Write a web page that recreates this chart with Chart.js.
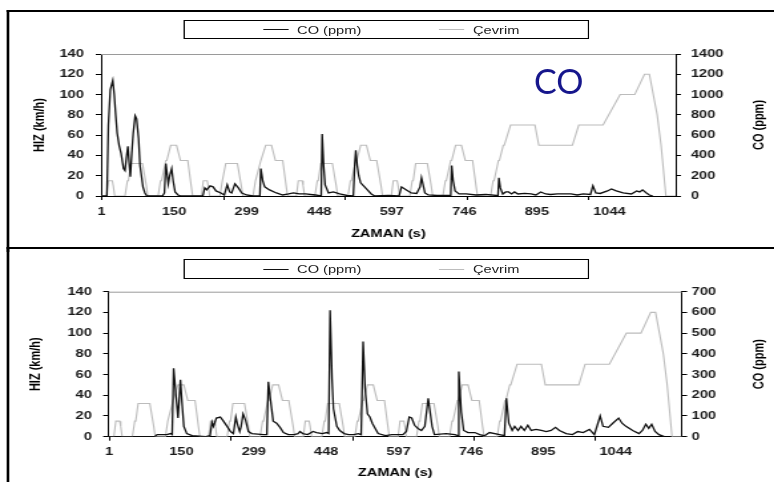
<!DOCTYPE html>
<html>
<head>
<meta charset="utf-8">
<script src="https://cdn.jsdelivr.net/npm/chart.js@4.4.1/dist/chart.umd.min.js"></script>
<style>
body { margin: 0; background: #fff; width: 774px; height: 482px; overflow: hidden; position: relative; font-family: "Liberation Sans", Arial, sans-serif; }
/* the source picture is a horizontally stretched chart, so draw narrow and stretch */
#stretch { position: absolute; left: 0; top: 0; width: 582px; height: 482px; transform: scaleX(1.33); transform-origin: 0 0; }
.frame { position: absolute; left: 5.3px; width: 590px; border-top: 2px solid #000; border-left: 2px solid #000; }
canvas { position: absolute; left: 0; }
.legend { position: absolute; left: 137.6px; width: 305px; border: 1px solid #000; box-sizing: border-box; font-size: 11px; color: #222; }
.item { position: absolute; top: 0; height: 100%; display: flex; align-items: center; white-space: nowrap; }
.swatch { display: inline-block; width: 19px; height: 0; margin-right: 6.4px; }
#co-note { position: absolute; left: 534px; top: 64px; font: 34px Lato, sans-serif; line-height: 34px; color: #16168c; }
</style>
</head>
<body>
<div id="stretch">
    <div class="frame" style="top:10px;height:240px;"></div>
    <div class="frame" style="top:247px;height:240px;"></div>
    <canvas id="chartTop" width="582" height="235" style="top:12px;width:582px;height:235px;"></canvas>
    <canvas id="chartBottom" width="582" height="232" style="top:250px;width:582px;height:232px;"></canvas>
    <div class="legend" style="top:20px;height:19px;">
        <div class="item" style="left:59.4px;"><span class="swatch" style="border-top:1.4px solid #111;"></span>CO (ppm)</div>
        <div class="item" style="left:191.7px;"><span class="swatch" style="border-top:1.2px solid #bcbcbc;"></span>Çevrim</div>
    </div>
    <div class="legend" style="top:259px;height:20px;">
        <div class="item" style="left:59.4px;"><span class="swatch" style="border-top:1.4px solid #111;"></span>CO (ppm)</div>
        <div class="item" style="left:191.7px;"><span class="swatch" style="border-top:1.2px solid #bcbcbc;"></span>Çevrim</div>
    </div>
</div>
<div id="co-note">CO</div>

<script>
// x axis labels and the small tick marks on the time axis
const xTickLabels = [1, 150, 299, 448, 597, 746, 895, 1044];
const xMarkTicks = [1, 251, 501, 751, 1001];

// Çevrim (speed, km/h) : [time s, speed]
const cycle = [
    [0, 0], [11, 0], [15, 15], [23, 15], [25, 10], [28, 0], [49, 0], [54, 15], [56, 15], [61, 32], [85, 32], [93, 10], [96, 0],
    [117, 0], [122, 15], [124, 15], [133, 35], [135, 35], [143, 50], [155, 50], [163, 35], [176, 35], [178, 35], [185, 10], [188, 0],
    [195, 0], [206, 0], [210, 15], [218, 15], [220, 10], [223, 0], [244, 0], [249, 15], [251, 15], [256, 32], [280, 32], [288, 10], [291, 0],
    [312, 0], [317, 15], [319, 15], [328, 35], [330, 35], [338, 50], [350, 50], [358, 35], [371, 35], [373, 35], [380, 10], [383, 0],
    [390, 0], [401, 0], [405, 15], [413, 15], [415, 10], [418, 0], [439, 0], [444, 15], [446, 15], [451, 32], [475, 32], [483, 10], [486, 0],
    [507, 0], [512, 15], [514, 15], [523, 35], [525, 35], [533, 50], [545, 50], [553, 35], [566, 35], [568, 35], [575, 10], [578, 0],
    [585, 0], [596, 0], [600, 15], [608, 15], [610, 10], [613, 0], [634, 0], [639, 15], [641, 15], [646, 32], [670, 32], [678, 10], [681, 0],
    [702, 0], [707, 15], [709, 15], [718, 35], [720, 35], [728, 50], [740, 50], [748, 35], [761, 35], [763, 35], [770, 10], [773, 0],
    [780, 0], [800, 0], [805, 15], [807, 15], [816, 35], [818, 35], [826, 50], [828, 50], [841, 70], [891, 70], [899, 50], [968, 50],
    [981, 70], [1031, 70], [1066, 100], [1096, 100], [1116, 120], [1126, 120], [1142, 80], [1150, 50], [1160, 0], [1180, 0]
];

// CO (ppm), upper chart : [time s, ppm]
const coTop = [
    [0, 0], [12, 0], [15, 700], [19, 1050], [24, 1140], [27, 1000], [30, 800], [33, 620], [37, 500], [41, 420], [46, 270], [49, 250],
    [52, 380], [55, 490], [58, 300], [60, 190], [63, 420], [66, 620], [70, 790], [73, 760], [77, 570], [80, 300], [86, 90], [90, 30],
    [94, 0], [126, 0], [130, 30], [133, 320], [136, 200], [138, 120], [141, 200], [145, 270], [148, 150], [152, 40], [158, 10], [164, 0],
    [209, 0], [213, 80], [217, 60], [224, 100], [230, 90], [236, 50], [246, 30], [253, 10], [259, 110], [264, 40], [268, 30], [275, 120],
    [282, 80], [289, 30], [299, 10], [312, 0], [326, 0], [328, 270], [332, 150], [336, 90], [346, 60], [360, 30], [373, 10], [385, 20],
    [395, 30], [407, 20], [420, 20], [440, 10], [452, 0], [454, 610], [457, 300], [460, 110], [467, 30], [477, 40], [490, 20], [505, 5],
    [518, 0], [521, 320], [523, 450], [526, 300], [529, 200], [533, 130], [539, 100], [547, 60], [555, 20], [562, 0], [590, 5], [612, 0],
    [617, 90], [627, 60], [637, 30], [648, 25], [655, 90], [658, 180], [665, 30], [672, 10], [690, 5], [715, 5], [718, 0], [720, 300],
    [723, 150], [727, 50], [735, 20], [750, 20], [770, 10], [790, 15], [812, 5], [815, 0], [817, 180], [820, 80], [825, 20], [831, 40],
    [837, 40], [843, 20], [849, 40], [856, 20], [870, 25], [883, 20], [893, 10], [903, 40], [913, 20], [923, 15], [937, 20], [950, 20],
    [965, 20], [978, 10], [990, 20], [1005, 15], [1010, 100], [1016, 30], [1025, 25], [1040, 50], [1048, 70], [1058, 50], [1072, 30],
    [1089, 20], [1100, 50], [1106, 40], [1112, 60], [1120, 30], [1126, 10], [1133, 0]
];

// CO (ppm), lower chart
const coBottom = [
    [0, 0], [95, 0], [100, 10], [120, 10], [128, 15], [131, 10], [134, 330], [139, 195], [143, 90], [148, 275], [151, 170], [155, 50],
    [161, 15], [172, 5], [200, 0], [209, 5], [213, 70], [216, 50], [219, 70], [222, 90], [230, 95], [235, 80], [244, 50], [251, 25],
    [257, 15], [262, 95], [266, 55], [270, 25], [273, 50], [277, 110], [282, 80], [288, 25], [295, 15], [319, 10], [326, 10], [329, 265],
    [333, 185], [339, 75], [346, 65], [353, 45], [360, 20], [370, 10], [382, 10], [390, 15], [394, 25], [400, 15], [410, 10], [421, 25],
    [428, 20], [440, 15], [449, 20], [453, 15], [456, 610], [460, 280], [463, 135], [470, 50], [476, 30], [485, 15], [494, 10], [505, 10],
    [514, 15], [520, 10], [524, 460], [528, 235], [533, 110], [538, 95], [543, 65], [549, 40], [555, 15], [570, 5], [583, 10], [593, 10],
    [606, 10], [613, 25], [619, 95], [624, 90], [630, 55], [637, 40], [644, 30], [651, 50], [658, 185], [661, 135], [666, 50], [671, 10],
    [695, 15], [713, 10], [719, 5], [721, 315], [726, 120], [731, 30], [740, 20], [754, 20], [764, 10], [774, 5], [784, 20], [805, 10],
    [815, 5], [819, 185], [824, 65], [831, 30], [836, 50], [843, 30], [849, 50], [856, 30], [863, 55], [870, 30], [880, 35], [891, 30],
    [901, 25], [911, 30], [920, 45], [928, 30], [942, 15], [955, 10], [966, 25], [977, 20], [990, 35], [1000, 10], [1012, 100], [1018, 50],
    [1029, 45], [1038, 65], [1050, 90], [1057, 65], [1065, 50], [1079, 30], [1092, 15], [1099, 30], [1106, 60], [1112, 40], [1118, 60],
    [1125, 25], [1133, 10], [1144, 0]
];

const FONT = '"Liberation Sans", Arial, sans-serif';
const TICK_FONT = { family: FONT, size: 11, weight: 'bold' };

// plot frame top line, time tick marks, right axis title (reads bottom to top)
const extras = {
    id: 'extras',
    afterDraw(chart) {
        const { ctx, chartArea } = chart;
        const xs = chart.scales.x;
        ctx.save();
        ctx.strokeStyle = '#9a9a9a';
        ctx.lineWidth = 1;
        ctx.beginPath();
        ctx.moveTo(chartArea.left, chartArea.top + 0.5);
        ctx.lineTo(chartArea.right, chartArea.top + 0.5);
        ctx.stroke();

        ctx.strokeStyle = '#000';
        ctx.beginPath();
        for (const v of xMarkTicks) {
            const px = Math.round(xs.getPixelForValue(v)) + 0.5;
            ctx.moveTo(px, chartArea.bottom);
            ctx.lineTo(px, chartArea.bottom + 4);
        }
        ctx.stroke();

        ctx.translate(571, (chartArea.top + chartArea.bottom) / 2);
        ctx.rotate(-Math.PI / 2);
        ctx.font = 'bold 11px ' + FONT;
        ctx.fillStyle = '#000';
        ctx.textAlign = 'center';
        ctx.textBaseline = 'middle';
        ctx.fillText('CO (ppm)', 0, 0);
        ctx.restore();
    }
};

function drawChart(id, coData, s) {
    const ctx = document.getElementById(id).getContext('2d');
    return new Chart(ctx, { //eslint-disable-line
        type: 'line',
        data: {
            datasets: [{
                label: 'CO (ppm)',
                data: coData.map(p => ({ x: p[0], y: p[1] })),
                yAxisID: 'y1',
                borderColor: '#111',
                borderWidth: 1.3,
                pointRadius: 0
            }, {
                label: 'Çevrim',
                data: cycle.map(p => ({ x: p[0], y: p[1] })),
                yAxisID: 'y',
                borderColor: '#bcbcbc',
                borderWidth: 1.1,
                pointRadius: 0
            }]
        },
        options: {
            responsive: false,
            animation: false,
            devicePixelRatio: 1,
            layout: { padding: { top: s.top, left: 0, right: 0, bottom: 0 } },
            plugins: { legend: { display: false }, tooltip: { enabled: false } },
            scales: {
                x: {
                    type: 'linear',
                    min: 0,
                    max: 1180,
                    afterBuildTicks: sc => { sc.ticks = xTickLabels.map(v => ({ value: v })); },
                    afterFit: sc => { sc.height = s.xHeight; },
                    ticks: { callback: v => String(v), font: TICK_FONT, color: '#1a1a1a', padding: 9, maxRotation: 0, autoSkip: false },
                    grid: { display: false, drawTicks: false },
                    border: { color: '#000', width: 1 },
                    title: { display: true, text: 'ZAMAN (s)', font: { family: FONT, size: 11, weight: 'bold' }, color: '#000', padding: { top: 0, bottom: s.xTitlePad } }
                },
                y: {
                    position: 'left',
                    min: 0,
                    max: 140,
                    afterFit: sc => { sc.width = s.left; },
                    ticks: { stepSize: 20, callback: v => String(v), font: TICK_FONT, color: '#1a1a1a', padding: s.leftPad },
                    grid: { drawOnChartArea: false, tickLength: 4, color: '#000' },
                    border: { color: '#000', width: 1 },
                    title: { display: true, text: 'HIZ (km/h)', font: { family: FONT, size: 11, weight: 'bold' }, color: '#000', padding: { top: s.yTitlePad, bottom: 0 } }
                },
                y1: {
                    position: 'right',
                    min: 0,
                    max: s.coMax,
                    afterFit: sc => { sc.width = s.right; },
                    ticks: { stepSize: s.coStep, callback: v => String(v), font: TICK_FONT, color: '#1a1a1a', padding: s.rightPad },
                    grid: { drawOnChartArea: false, tickLength: 4, color: '#000' },
                    border: { color: '#000', width: 1 }
                }
            }
        },
        plugins: [extras]
    });
}

drawChart('chartTop', coTop, { coMax: 1400, coStep: 200, top: 42, left: 76, right: 74, xHeight: 51, xTitlePad: 6.4, yTitlePad: 23.4, leftPad: 9, rightPad: 7.5 });
drawChart('chartBottom', coBottom, { coMax: 700, coStep: 100, top: 41.7, left: 81.6, right: 69.4, xHeight: 45.3, xTitlePad: 2.4, yTitlePad: 20.4, leftPad: 8.5, rightPad: 3.5 });
</script>
</body>
</html>
